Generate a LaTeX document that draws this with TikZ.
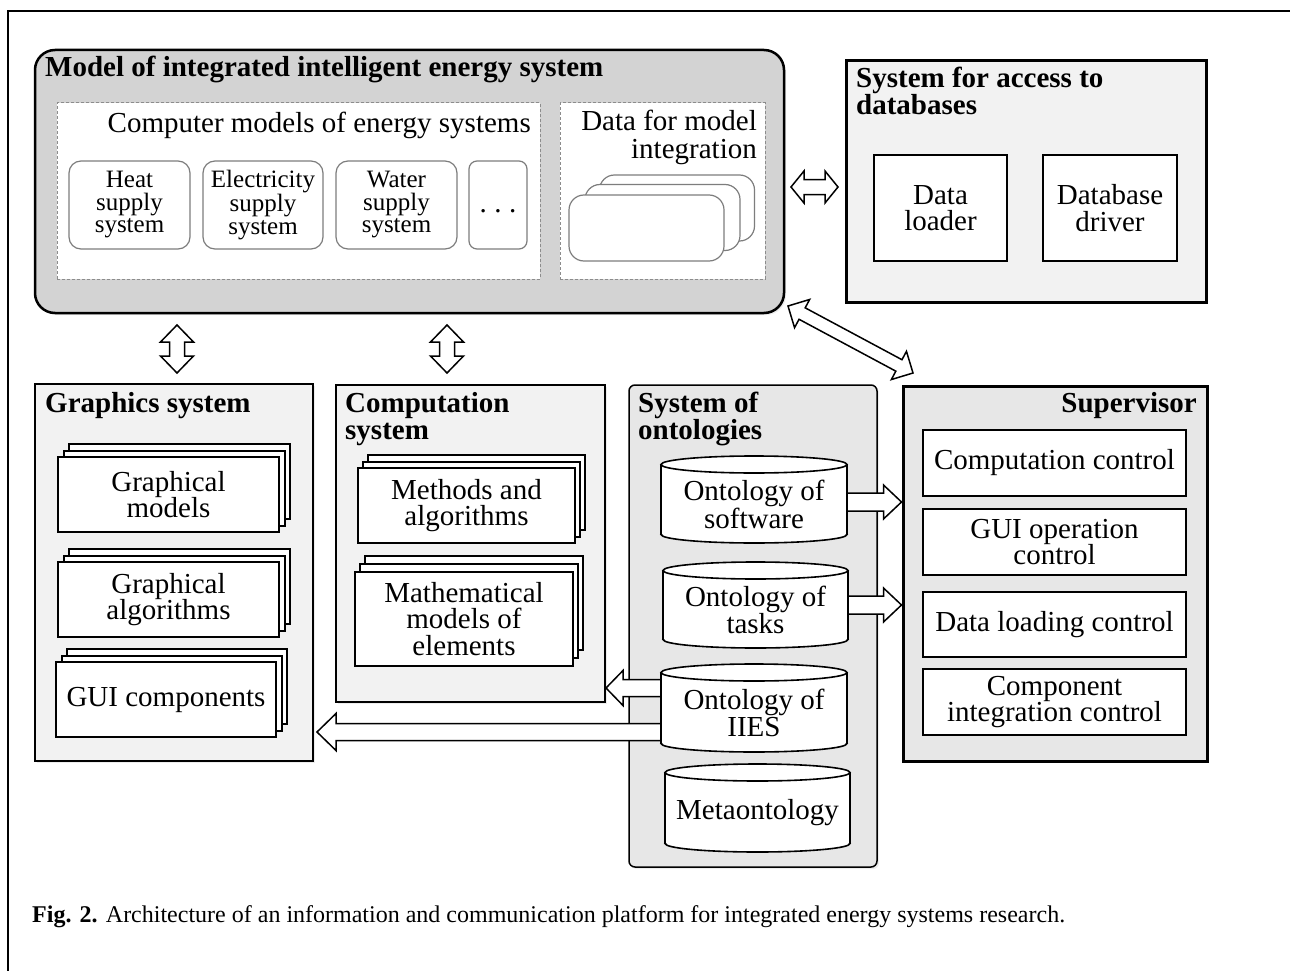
\documentclass[tikz,border=0pt]{standalone}
\usepackage{fontspec}
\setmainfont{Liberation Serif}
\usetikzlibrary{calc,shadows}
\definecolor{modelgray}{RGB}{211,211,211}
\definecolor{boxlight}{RGB}{242,242,242}
\definecolor{boxmid}{RGB}{231,231,231}
\definecolor{dashgray}{RGB}{140,140,140}
\definecolor{roundgray}{RGB}{125,125,125}
\newcommand\fbig{\fontsize{29}{26.5}\selectfont}
\newcommand\fsmall{\fontsize{25}{22.5}\selectfont}
\newcommand\fcap{\fontsize{24}{28}\selectfont}
% single block arrow: tail, tip, shaft half width, head half width, head length
\newcommand\blkarrow[5]{%
  \path let \p1=(#1), \p2=(#2) in \pgfextra{%
    \pgfmathsetmacro\baang{atan2(\y2-\y1,\x2-\x1)}%
    \pgfmathsetmacro\balen{veclen(\x2-\x1,\y2-\y1)}%
    \global\let\baangG\baang \global\let\balenG\balen};
  \draw[arrowbody, shift={(#1)}, rotate=\baangG] (0,#3) -- ({\balenG-#5},#3) -- ({\balenG-#5},#4) -- (\balenG,0) -- ({\balenG-#5},-#4) -- ({\balenG-#5},-#3) -- (0,-#3) -- cycle;
}
% double block arrow
\newcommand\dblarrow[5]{%
  \path let \p1=(#1), \p2=(#2) in \pgfextra{%
    \pgfmathsetmacro\baang{atan2(\y2-\y1,\x2-\x1)}%
    \pgfmathsetmacro\balen{veclen(\x2-\x1,\y2-\y1)}%
    \global\let\baangG\baang \global\let\balenG\balen};
  \draw[arrowbody, shift={(#1)}, rotate=\baangG] (0,0) -- (#5,#4) -- (#5,#3) -- ({\balenG-#5},#3) -- ({\balenG-#5},#4) -- (\balenG,0) -- ({\balenG-#5},-#4) -- ({\balenG-#5},-#3) -- (#5,-#3) -- (#5,-#4) -- cycle;
}
% stacked boxes: name, cx, cy, w, h, dx, dy, text
\newcommand\stackbox[8]{%
  \node[wbox, minimum width=#4, minimum height=#5] (#1-b) at ({#2+2*(#6)},{#3+2*(#7)}) {};
  \node[wbox, minimum width=#4, minimum height=#5] (#1-m) at ({#2+#6},{#3+#7}) {};
  \node[wbox, minimum width=#4, minimum height=#5] (#1) at (#2,#3) {#8};
}
% cylinder: name, x1, y1, x2, y2, text
\newcommand\cyl[6]{%
  \fill[white] (#2,#3+8.5) rectangle (#4,#5-8.5);
  \fill[white] ({(#2+#4)/2},#5-8.5) ellipse [x radius={(#4-#2)/2}, y radius=8.5];
  \draw[line width=1.6pt] (#2,#3+8.5) -- (#2,#5-8.5);
  \draw[line width=1.6pt] (#4,#3+8.5) -- (#4,#5-8.5);
  \begin{scope}
    \clip (#2-3,#5-8.5) rectangle (#4+3,#5+3);
    \draw[line width=1.6pt] ({(#2+#4)/2},#5-8.5) ellipse [x radius={(#4-#2)/2}, y radius=8.5];
  \end{scope}
  \draw[line width=1.6pt, fill=white] ({(#2+#4)/2},#3+8.5) ellipse [x radius={(#4-#2)/2}, y radius=8.5];
  \node[inner sep=0, minimum width={#4-#2}, minimum height={#5-#3}] (#1) at ({(#2+#4)/2},{(#3+#5)/2}) {};
  \node[font=\fbig, align=center, inner sep=0] (#1-t) at ({(#2+#4)/2},{(#3+#5)/2+5}) {#6};
}
\begin{document}
\begin{tikzpicture}[x=1pt,y=-1pt,
  bigbox/.style={draw, line width=2.5pt, fill=boxlight, inner sep=0, drop shadow={shadow xshift=2pt, shadow yshift=-2pt, opacity=0.15}},
  wbox/.style={draw, line width=2pt, fill=white, inner sep=0, align=center, font=\fbig},
  rbox/.style={draw=roundgray, line width=1.2pt, fill=white, rounded corners=12pt, inner sep=0, align=center, font=\fsmall},
  rstack/.style={draw=roundgray, line width=1.2pt, fill=white, rounded corners=15pt, inner sep=0, minimum width=155, minimum height=66},
  dashbox/.style={draw=dashgray, dash pattern=on 3pt off 2pt, line width=1pt, fill=white, inner sep=0},
  btitle/.style={font=\fbig\bfseries, anchor=base west, inner sep=0},
  arrowbody/.style={draw=black, fill=white, line width=1.5pt, line join=miter},
]
\useasboundingbox (0,0) rectangle (1290,971);
% frame
\draw[line width=1.5pt] (8,971) -- (8,11) -- (1290,11);

% ---------- model of IIES ----------
\node[draw, line width=2.5pt, fill=modelgray, rounded corners=20pt, inner sep=0,
      minimum width=749, minimum height=263,
      drop shadow={shadow xshift=2pt, shadow yshift=-2pt, opacity=0.15}] (model) at (409.5,181.5) {};
\node[btitle] (modeltitle) at (45,77) {Model of integrated intelligent energy system};
\node[dashbox, minimum width=483, minimum height=176] (cmodels) at (298.5,191) {};
\node[font=\fbig, anchor=base east, inner sep=0] (cmodelst) at (531,132) {Computer models of energy systems};
\node[rbox, minimum width=121, minimum height=88] (heat) at (129.5,205) {Heat\\supply\\system};
\node[rbox, minimum width=120, minimum height=88] (elec) at (263,205) {Electricity\\supply\\system};
\node[rbox, minimum width=121, minimum height=88] (water) at (396.5,205) {Water\\supply\\system};
\node[rbox, rounded corners=8pt, minimum width=58, minimum height=88] (dots) at (498,205) {};
\node[font=\fbig, anchor=base, inner sep=0] (dotst) at (498,212) {.\hspace{7.5pt}.\hspace{7.5pt}.};
\node[dashbox, minimum width=205, minimum height=176] (dint) at (662.5,191) {};
\node[font=\fbig, anchor=base east, inner sep=0] (dint1) at (757,131) {Data for model};
\node[font=\fbig, anchor=base east, inner sep=0] (dint2) at (757,158) {integration};
\node[rstack] (dstack-b) at (677,208) {};
\node[rstack] (dstack-m) at (662.5,217.5) {};
\node[rstack] (dstack) at (646.5,228) {};

% ---------- access to databases ----------
\node[bigbox, line width=3pt, minimum width=360, minimum height=241] (dbsys) at (1026,181.5) {};
\node[btitle] (dbt1) at (856,88) {System for access to};
\node[btitle] (dbt2) at (856,115) {databases};
\node[wbox, minimum width=133, minimum height=106] (loader) at (940.5,208) {Data\\loader};
\node[wbox, minimum width=134, minimum height=106] (driver) at (1110,208) {Database\\driver};

% ---------- graphics system ----------
\node[bigbox, minimum width=278, minimum height=377] (graphics) at (174,572.5) {};
\node[btitle] (grt) at (45,412) {Graphics system};
\stackbox{gmodels}{168.5}{494.5}{221}{75}{5.5}{-6.5}{Graphical\\models}
\stackbox{galgs}{168.5}{599.5}{221}{75}{5.5}{-6.5}{Graphical\\algorithms}
\stackbox{gui}{166}{699.5}{220}{75}{5.5}{-6.5}{GUI components}

% ---------- computation system ----------
\node[bigbox, minimum width=269, minimum height=317] (comp) at (470.5,543.5) {};
\node[btitle] (ct1) at (345,412) {Computation};
\node[btitle] (ct2) at (345,439) {system};
\stackbox{methods}{466.5}{505.5}{217}{75}{5}{-6.5}{Methods and\\algorithms}
\stackbox{math}{464}{619}{218}{94}{5}{-8}{Mathematical\\models of\\elements}

% ---------- ontologies ----------
\node[draw, line width=1.5pt, fill=boxmid, rounded corners=6pt, inner sep=0,
      minimum width=248, minimum height=482,
      drop shadow={shadow xshift=2pt, shadow yshift=-2pt, opacity=0.15}] (onto) at (753,626) {};
\node[btitle] (ot1) at (638,412) {System of};
\node[btitle] (ot2) at (638,439) {ontologies};
\cyl{osoft}{661}{456}{847}{543}{Ontology of\\software}
\cyl{otasks}{663}{562}{848}{648}{Ontology of\\tasks}
\cyl{oiies}{661}{664}{847}{752}{Ontology of\\IIES}
\cyl{ometa}{665}{764}{850}{852}{Metaontology}

% ---------- supervisor ----------
\node[bigbox, line width=3pt, fill=boxmid, minimum width=304, minimum height=375] (sup) at (1055,573.5) {};
\node[font=\fbig\bfseries, anchor=base east, inner sep=0] (supt) at (1197,412) {Supervisor};
\node[wbox, minimum width=263, minimum height=66] (cc) at (1054.5,463) {Computation control};
\node[wbox, minimum width=263, minimum height=66] (guic) at (1054.5,542) {GUI operation\\control};
\node[wbox, minimum width=263, minimum height=65] (dlc) at (1054.5,624.5) {Data loading control};
\node[wbox, minimum width=263, minimum height=66] (cic) at (1054.5,702) {Component\\integration control};

% ---------- block arrows ----------
\coordinate (hA) at (791,187);
\coordinate (hB) at (838,187);
\dblarrow{hA}{hB}{7.5}{16}{13}
\coordinate (v1A) at (177,325);
\coordinate (v1B) at (177,373);
\dblarrow{v1A}{v1B}{7.5}{16.5}{17}
\coordinate (v2A) at (447,325);
\coordinate (v2B) at (447,373);
\dblarrow{v2A}{v2B}{7.5}{16.5}{17}
\coordinate (dA) at (788,306);
\coordinate (dB) at (913,373);
\dblarrow{dA}{dB}{6.5}{16}{16}
\coordinate (r1A) at (osoft.east |- 0,502);
\coordinate (r1B) at (sup.west |- 0,502);
\blkarrow{r1A}{r1B}{9}{17}{18}
\coordinate (r2A) at (otasks.east |- 0,605);
\coordinate (r2B) at (sup.west |- 0,605);
\blkarrow{r2A}{r2B}{9}{17}{18}
\coordinate (l1A) at (oiies.west |- 0,688);
\coordinate (l1B) at (606,688);
\blkarrow{l1A}{l1B}{8.5}{17.5}{17}
\coordinate (l2A) at (oiies.west |- 0,732);
\coordinate (l2B) at (317,732);
\blkarrow{l2A}{l2B}{8.5}{18.5}{19}

% ---------- caption ----------
\node[font=\fcap, anchor=base west, inner sep=0] (caption) at (32,922)
  {\textbf{Fig. 2.}\hspace{0.35em}Architecture of an information and communication platform for integrated energy systems research.};
\end{tikzpicture}
\end{document}
